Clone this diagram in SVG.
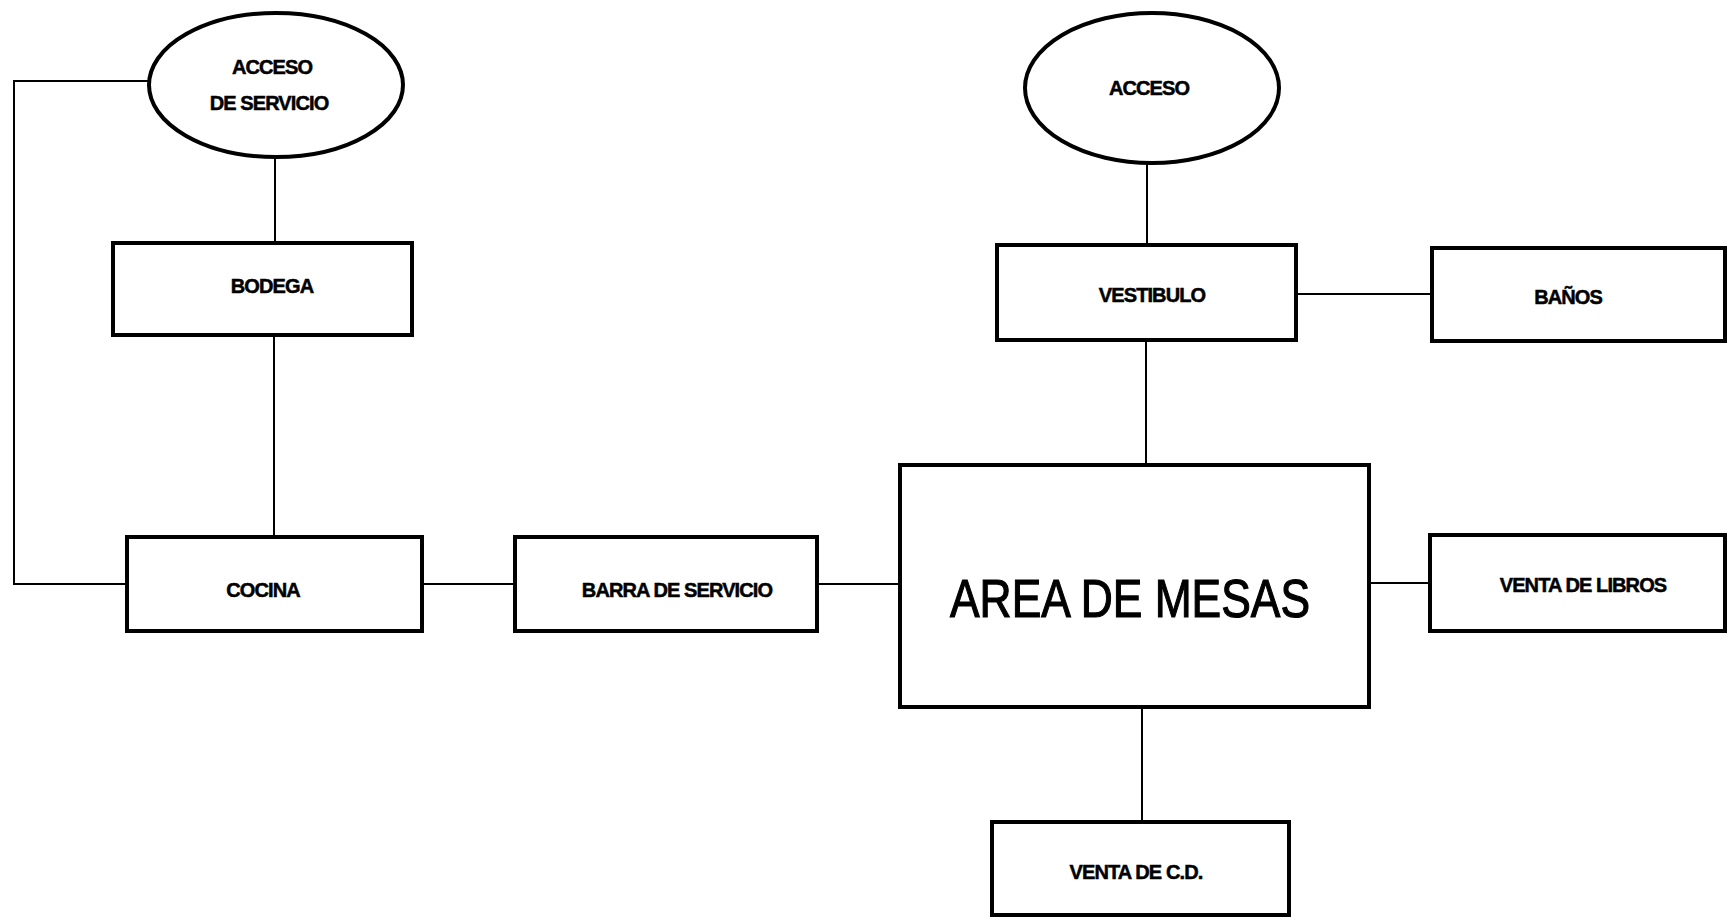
<svg xmlns="http://www.w3.org/2000/svg" width="1728" height="917" viewBox="0 0 1728 917">
<style>
.box{fill:#fff;stroke:#000;stroke-width:4}
.ell{fill:#fff;stroke:#000;stroke-width:4}
.ln{fill:none;stroke:#000;stroke-width:2}
.lb{font-family:"Liberation Sans",Arial,sans-serif;font-weight:bold;font-size:20px;text-anchor:middle;letter-spacing:-0.9px;stroke:#000;stroke-width:0.5}
.big{font-family:"Liberation Sans",Arial,sans-serif;font-size:54px;text-anchor:middle;stroke:#000;stroke-width:1.2}
</style>
<rect x="0" y="0" width="1728" height="917" fill="#fff"/>
<g id="connectors">
<polyline class="ln" points="149,81 14,81 14,584 127,584"/>
<line class="ln" x1="275" y1="157" x2="275" y2="243"/>
<line class="ln" x1="274" y1="337" x2="274" y2="537"/>
<line class="ln" x1="422" y1="584" x2="515" y2="584"/>
<line class="ln" x1="817" y1="584" x2="900" y2="584"/>
<line class="ln" x1="1147" y1="163" x2="1147" y2="245"/>
<line class="ln" x1="1296" y1="294" x2="1432" y2="294"/>
<line class="ln" x1="1146" y1="340" x2="1146" y2="465"/>
<line class="ln" x1="1369" y1="583" x2="1430" y2="583"/>
<line class="ln" x1="1142" y1="707" x2="1142" y2="822"/>
</g>
<g id="acceso-servicio">
<ellipse class="ell" cx="276" cy="85" rx="127" ry="72"/>
<text class="lb" x="272" y="74">ACCESO</text>
<text class="lb" x="269" y="110">DE SERVICIO</text>
</g>
<g id="bodega">
<rect class="box" x="113" y="243" width="299" height="92"/>
<text class="lb" x="272" y="293">BODEGA</text>
</g>
<g id="cocina">
<rect class="box" x="127" y="537" width="295" height="94"/>
<text class="lb" x="263" y="597">COCINA</text>
</g>
<g id="barra">
<rect class="box" x="515" y="537" width="302" height="94"/>
<text class="lb" x="677" y="597">BARRA DE SERVICIO</text>
</g>
<g id="acceso">
<ellipse class="ell" cx="1152" cy="88" rx="127" ry="75"/>
<text class="lb" x="1149" y="95">ACCESO</text>
</g>
<g id="vestibulo">
<rect class="box" x="997" y="245" width="299" height="95"/>
<text class="lb" x="1152" y="302">VESTIBULO</text>
</g>
<g id="banos">
<rect class="box" x="1432" y="248" width="293" height="93"/>
<text class="lb" x="1568" y="304">BAÑOS</text>
</g>
<g id="area-mesas">
<rect class="box" x="900" y="465" width="469" height="242"/>
<text class="big" x="1130" y="617" textLength="360" lengthAdjust="spacingAndGlyphs">AREA DE MESAS</text>
</g>
<g id="venta-libros">
<rect class="box" x="1430" y="535" width="295" height="96"/>
<text class="lb" x="1583" y="592">VENTA DE LIBROS</text>
</g>
<g id="venta-cd">
<rect class="box" x="992" y="822" width="297" height="93"/>
<text class="lb" x="1136" y="879">VENTA DE C.D.</text>
</g>
</svg>
